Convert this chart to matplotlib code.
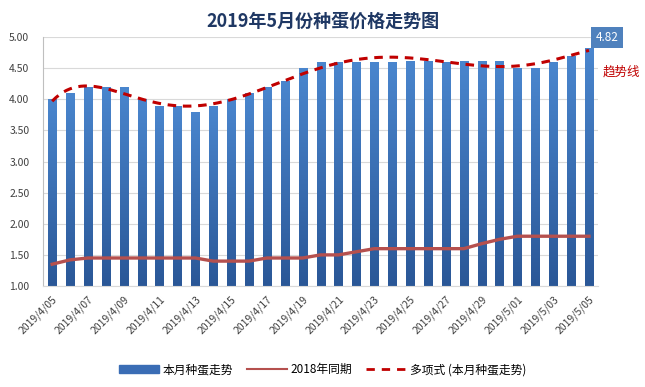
import numpy as np
import pandas as pd
from matplotlib import pyplot as plt
from matplotlib.colors import LinearSegmentedColormap
from matplotlib.lines import Line2D
from matplotlib.patches import Patch

plt.rcParams['font.family'] = ['Noto Sans CJK SC', 'DejaVu Sans']

dates = pd.date_range('2019-04-05', '2019-05-05')
labels = ["%d/%d/%02d" % (d.year, d.month, d.day) for d in dates]

price_2019 = [4.0, 4.1, 4.2, 4.2, 4.2, 4.0, 3.9, 3.9, 3.8, 3.9, 4.0, 4.1, 4.2, 4.3, 4.5, 4.6,
              4.6, 4.6, 4.6, 4.6, 4.62, 4.62, 4.6, 4.62, 4.62, 4.62, 4.5, 4.5, 4.6, 4.7, 4.82]
price_2018 = [1.35, 1.42, 1.45, 1.45, 1.45, 1.45, 1.45, 1.45, 1.45, 1.4, 1.4, 1.4, 1.45, 1.45, 1.45, 1.5,
              1.5, 1.55, 1.6, 1.6, 1.6, 1.6, 1.6, 1.6, 1.68, 1.75, 1.8, 1.8, 1.8, 1.8, 1.8]


def main():
	fig = plt.figure(figsize=(6.45, 3.87), dpi=100)
	ax = fig.add_axes([0.067, 0.261, 0.86, 0.643])
	x = np.arange(len(price_2019))

	bars = ax.bar(x, price_2019, width=0.45, color='#3A6DB5', zorder=2)
	# vertical gradient inside each bar
	cmap = LinearSegmentedColormap.from_list('bar', ['#2A5797', '#4A86CE'])
	grad = np.linspace(0, 1, 256).reshape(-1, 1)
	for b in bars:
		bx, by = b.get_x(), b.get_y()
		w, h = b.get_width(), b.get_height()
		b.set_facecolor('none')
		img = ax.imshow(grad, cmap=cmap, origin='lower', aspect='auto',
						extent=(bx, bx + w, 1.0, by + h), zorder=2)
		img.set_clip_path(b)

	ax.plot(x, price_2018, color='#B5504E', lw=2.4, zorder=3)

	# polynomial trend line (order 6), as in the spreadsheet
	coef = np.polyfit(x + 1, price_2019, 6)
	xs = np.linspace(0, len(x) - 1, 300)
	ax.plot(xs, np.polyval(coef, xs + 1), color='#C00000', lw=2.2, ls=(0, (2.8, 2.2)), zorder=4)

	ax.set_ylim(1.0, 5.0)
	ax.set_xlim(-0.5, len(x) - 0.5)
	ax.set_yticks(np.arange(1.0, 5.01, 0.5))
	ax.set_yticklabels(["%.2f" % v for v in np.arange(1.0, 5.01, 0.5)])
	ax.set_xticks(x[::2])
	ax.set_xticklabels(labels[::2], rotation=45, ha='right', rotation_mode='anchor')
	ax.tick_params(axis='both', length=0, labelsize=7.5, colors='#404040')
	ax.tick_params(axis='x', pad=6)
	ax.tick_params(axis='y', pad=10)
	ax.grid(axis='y', color='#D9D9D9', lw=0.8, zorder=0)
	for s in ['top', 'right']:
		ax.spines[s].set_visible(False)
	ax.spines['bottom'].set_color('#D9D9D9')
	ax.spines['left'].set_color('#BFBFBF')

	# data label of the last bar
	ax.annotate("%.2f" % price_2019[-1], xy=(x[-1], 5.0), xytext=(13, 0),
				textcoords='offset points', ha='center', va='center', color='white', fontsize=8.5,
				bbox=dict(boxstyle='square,pad=0.35', fc='#4F81BD', ec='none'), annotation_clip=False)
	fig.text(0.963, 0.815, "趋势线", color='#C00000', fontsize=9, ha='center', va='center')

	fig.text(0.5, 0.945, "2019年5月份种蛋价格走势图", ha='center', va='center',
			 fontsize=13, fontweight='bold', color='#1F3864')

	handlers = [Patch(color='#3A6DB5'),
				Line2D([], [], color='#B5504E', lw=1.5),
				Line2D([], [], color='#C00000', lw=2, ls=(0, (3, 2.5)))]
	names = ["本月种蛋走势", "2018年同期", "多项式 (本月种蛋走势)"]
	fig.legend(handlers, names, loc='center', bbox_to_anchor=(0.5, 0.045), ncol=3, frameon=False,
			   fontsize=8.5, handlelength=3.4, handleheight=0.6, columnspacing=1.2, handletextpad=0.3)

	fig.savefig("out.png", dpi=100)


if __name__ == "__main__":
	main()
